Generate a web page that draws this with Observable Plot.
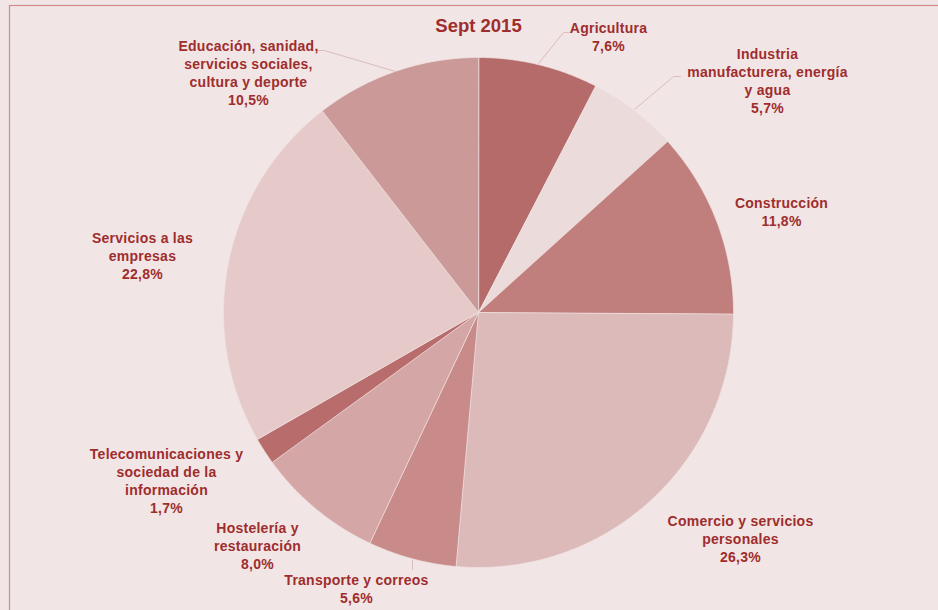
<!DOCTYPE html>
<html>
<head>
<meta charset="utf-8">
<script src="https://cdn.jsdelivr.net/npm/d3@7"></script>
<script src="https://cdn.jsdelivr.net/npm/@observablehq/plot@0.6"></script>
<style>
  html, body { margin: 0; padding: 0; background: #ffffff; overflow: hidden; }
  #chart svg { display: block; max-width: none !important; }
</style>
</head>
<body>
<div id="chart"></div>
<script>
// ---- data ----
const title = "Sept 2015";
const categories = [
  "Agricultura",
  "Industria\nmanufacturera, energía\ny agua",
  "Construcción",
  "Comercio y servicios\npersonales",
  "Transporte y correos",
  "Hostelería y\nrestauración",
  "Telecomunicaciones y\nsociedad de la\ninformación",
  "Servicios a las\nempresas",
  "Educación, sanidad,\nservicios sociales,\ncultura y deporte"
];
const values = [7.6, 5.7, 11.8, 26.3, 5.6, 8.0, 1.7, 22.8, 10.5];
const valueLabels = ["7,6%", "5,7%", "11,8%", "26,3%", "5,6%", "8,0%", "1,7%", "22,8%", "10,5%"];

// ---- style / layout ----
const colors = ["#b56b6a", "#ecdbdb", "#c07e7c", "#dcbaba", "#c88b8a", "#d5a6a6", "#b86c6b", "#e6caca", "#cb9998"];
const W = 950, H = 620, mL = 9, mT = 5;
const cx = 478, cy = 312, R = 255;               // pie centre / radius in pixels
// label block centres (pixels)
const labelPos = [[608, 36], [767, 80], [781, 211], [740, 538], [356, 588], [257, 545], [166, 480], [142, 255], [248, 72]];
// leader lines (pixels), only where the reference shows them
const leaders = [
  [0, [[538, 63], [563, 32], [569, 32]]],
  [1, [[634, 109], [673, 76], [680, 76]]],
  [4, [[412, 560], [412, 569]]],
  [8, [[395, 71], [324, 50], [318, 50]]]
];

const toX = px => (px - cx) / R;
const toY = py => (cy - py) / R;

const arcs = d3.pie().sort(null).value(d => d)(values);
const slices = [];
arcs.forEach((a, i) => {
  const name = categories[i];
  slices.push({name, x: 0, y: 0});
  const n = Math.max(2, Math.ceil((a.endAngle - a.startAngle) / 0.005));
  for (let k = 0; k <= n; k++) {
    const t = a.startAngle + (a.endAngle - a.startAngle) * k / n;
    slices.push({name, x: Math.sin(t), y: Math.cos(t)});
  }
});

const labels = categories.map((c, i) => ({
  text: c + "\n" + valueLabels[i],
  x: toX(labelPos[i][0]),
  y: toY(labelPos[i][1])
}));

const leaderPts = [];
leaders.forEach(([i, pts]) => pts.forEach(p => leaderPts.push({id: i, x: toX(p[0]), y: toY(p[1])})));

const chart = Plot.plot({
  width: W,
  height: H,
  marginLeft: mL,
  marginTop: mT,
  marginRight: 0,
  marginBottom: 0,
  style: {background: "#f2e5e5", fontFamily: "'Liberation Sans', Arial, sans-serif"},
  x: {domain: [toX(mL), toX(W)], axis: null},
  y: {domain: [toY(H), toY(mT)], axis: null},
  color: {type: "ordinal", domain: categories, range: colors},
  marks: [
    Plot.frame({stroke: "#d08c8c", strokeWidth: 1.2}),
    Plot.line(slices, {x: "x", y: "y", z: "name", fill: "name", stroke: "#f1e3e3", strokeWidth: 0.7, curve: "linear-closed"}),
    Plot.line(leaderPts, {x: "x", y: "y", z: "id", stroke: "#dcbcbc", strokeWidth: 1}),
    Plot.text(labels, {x: "x", y: "y", text: "text", fill: "#9e2d2d", fontSize: 14, fontWeight: "bold", lineHeight: 1.29, textAnchor: "middle", lineAnchor: "middle", style: "letter-spacing:0.25px"}),
    Plot.text([title], {x: toX(478), y: toY(26), text: d => d, fill: "#9e2d2d", fontSize: 18.5, fontWeight: "bold", textAnchor: "middle", lineAnchor: "middle"})
  ]
});
chart.querySelectorAll("g[aria-label=text]")[0].setAttribute("letter-spacing", "0.25");
document.getElementById("chart").appendChild(chart);
</script>
</body>
</html>
